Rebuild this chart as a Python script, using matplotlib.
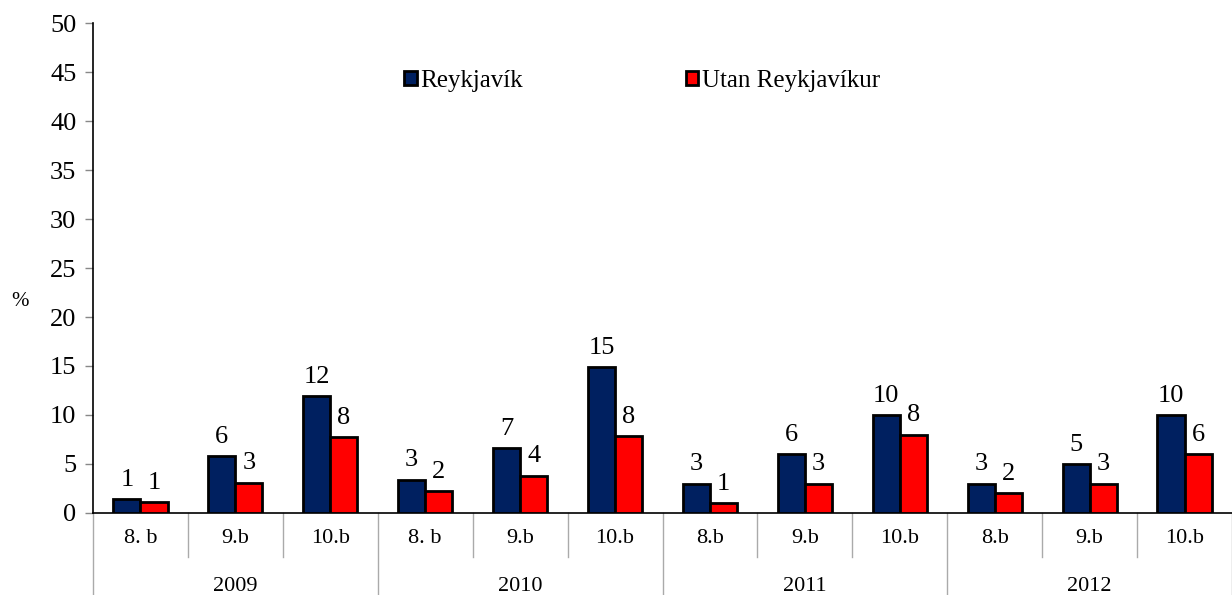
import matplotlib.pyplot as plt
import matplotlib.transforms as mtransforms
import numpy as np

plt.rcParams['font.family'] = ['Liberation Serif', 'DejaVu Serif']

# Data
years = ["2009", "2010", "2011", "2012"]
grades = ["8. b", "9.b", "10.b", "8. b", "9.b", "10.b",
          "8.b", "9.b", "10.b", "8.b", "9.b", "10.b"]
reykjavik = [1.4, 5.8, 11.9, 3.4, 6.6, 14.9, 3.0, 6.0, 10.0, 3.0, 5.0, 10.0]
utan = [1.1, 3.1, 7.7, 2.2, 3.8, 7.8, 1.0, 3.0, 8.0, 2.0, 3.0, 6.0]
reyk_labels = ["1", "6", "12", "3", "7", "15", "3", "6", "10", "3", "5", "10"]
utan_labels = ["1", "3", "8", "2", "4", "8", "1", "3", "8", "2", "3", "6"]

blue = "#002060"
red = "#FF0000"

fig = plt.figure(figsize=(12.32, 5.95), dpi=100)
ax = fig.add_axes([0.0755, 0.138, 0.9245, 0.823])

x = np.arange(len(grades))
w = 0.285
b1 = ax.bar(x - w / 2, reykjavik, w, color=blue, edgecolor="black", linewidth=2,
            label="Reykjavík", zorder=3)
b2 = ax.bar(x + w / 2, utan, w, color=red, edgecolor="black", linewidth=2,
            label="Utan Reykjavíkur", zorder=3)

for rect, lab in zip(b1, reyk_labels):
    ax.annotate(lab, (rect.get_x() + rect.get_width() / 2, rect.get_height()),
                xytext=(0, 6), textcoords="offset points", ha="center", va="bottom",
                fontsize=19)
for rect, lab in zip(b2, utan_labels):
    ax.annotate(lab, (rect.get_x() + rect.get_width() / 2, rect.get_height()),
                xytext=(0, 6), textcoords="offset points", ha="center", va="bottom",
                fontsize=19)

ax.set_xlim(-0.5, 11.5)
ax.set_ylim(0, 50)
ax.set_yticks(range(0, 51, 5))
ax.tick_params(axis="y", labelsize=19, length=6, color="#888888", width=1, pad=6)
ax.set_xticks([])

for s in ["top", "right"]:
    ax.spines[s].set_visible(False)
ax.spines["left"].set_linewidth(1.2)
ax.spines["bottom"].set_linewidth(1.2)

fig.text(20 / 1232, 1 - 301 / 595, "%", fontsize=15, ha="center", va="center")

# category axis below
trans = mtransforms.blended_transform_factory(ax.transData, ax.transAxes)
for i, g in enumerate(grades):
    ax.text(i, -0.052, g, transform=trans, ha="center", va="center", fontsize=16)
for i in range(len(grades) + 1):
    bx = i - 0.5
    if i % 3 == 0:
        ax.plot([bx, bx], [0, -0.2], transform=trans, color="#aaaaaa", lw=1, clip_on=False)
    else:
        ax.plot([bx, bx], [0, -0.09], transform=trans, color="#aaaaaa", lw=1, clip_on=False)
for j, yr in enumerate(years):
    ax.text(j * 3 + 1, -0.15, yr, transform=trans, ha="center", va="center", fontsize=16)

leg = ax.legend(loc="upper center", bbox_to_anchor=(0.482, 0.951), ncol=2, frameon=False,
                fontsize=18, handlelength=0.5, handleheight=0.5, handletextpad=0.15,
                columnspacing=6.5)

fig.savefig("out.png", dpi=100)
